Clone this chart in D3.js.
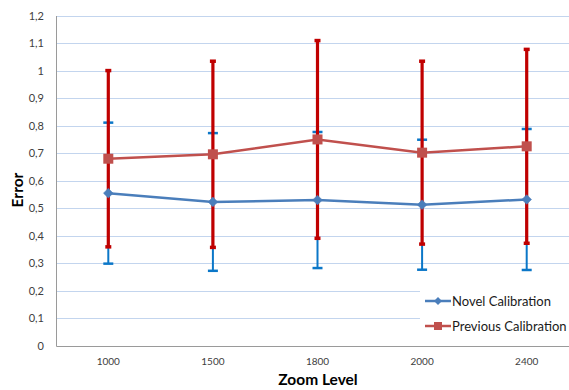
<!DOCTYPE html>
<html><head><meta charset="utf-8">
<script src="https://cdn.jsdelivr.net/npm/d3@7"></script>
<style>body{margin:0;background:#fff}svg{display:block}</style>
</head><body>
<svg id="c" width="569" height="390"></svg>
<script>
const categories = ["1000","1500","1800","2000","2400"];
const novel = [0.555, 0.523, 0.530, 0.513, 0.532];
const novelErr = [0.256, 0.250, 0.247, 0.236, 0.256];
const previous = [0.680, 0.696, 0.750, 0.702, 0.725];
const previousErr = [0.320, 0.338, 0.359, 0.332, 0.352];
const yTicks = [0,0.1,0.2,0.3,0.4,0.5,0.6,0.7,0.8,0.9,1.0,1.1,1.2];
const seriesNames = ["Novel Calibration","Previous Calibration"];

const svg = d3.select("#c");
const pLeft = 56, pRight = 579, pTop = 15.5, pBottom = 346;
const x = d3.scaleBand().domain(categories).range([pLeft, pRight]);
const y = d3.scaleLinear().domain([0, 1.2]).range([pBottom, pTop]);
const cx = d => x(d) + x.bandwidth()/2;
const font = "Lato, 'Open Sans', sans-serif";

// gridlines
svg.append("g").selectAll("line").data(yTicks.slice(1)).join("line")
  .attr("x1", pLeft).attr("x2", pRight)
  .attr("y1", d => Math.round(y(d))+0.5).attr("y2", d => Math.round(y(d))+0.5)
  .attr("stroke", "#c3d5ee").attr("stroke-width", 1.2);

// axes
const yAxis = svg.append("g").attr("transform", `translate(${pLeft},0)`)
  .call(d3.axisLeft(y).tickValues(yTicks).tickSize(0).tickPadding(12)
    .tickFormat(d => d3.format(".1~f")(d).replace(".", ",")));
yAxis.select(".domain").attr("stroke", "#9a9a9a");
yAxis.selectAll("text").attr("font-family", font).attr("font-size", 11).attr("fill", "#404040");

const xAxis = svg.append("g").attr("transform", `translate(0,${pBottom})`)
  .call(d3.axisBottom(x).tickSize(0).tickPadding(12));
xAxis.select(".domain").attr("stroke", "#9a9a9a");
xAxis.selectAll("text").attr("font-family", font).attr("font-size", 10).attr("fill", "#404040");

// axis titles
svg.append("text").attr("x", 318).attr("y", 385).attr("text-anchor", "middle")
  .attr("font-family", font).attr("font-weight", "bold").attr("font-size", 15.5).attr("fill", "#000")
  .text("Zoom Level");
svg.append("text").attr("transform", "translate(23,190) rotate(-90)").attr("text-anchor", "middle")
  .attr("font-family", font).attr("font-weight", "bold").attr("font-size", 15.5).attr("fill", "#000")
  .text("Error");

const blueLine = "#4a7ebb", redLine = "#c0504d", blueErr = "#0b77c8", redErr = "#c00000";

// blue error bars
const gb = svg.append("g");
categories.forEach((c, i) => {
  const px = cx(c);
  gb.append("line").attr("x1", px).attr("x2", px).attr("y1", y(novel[i]-novelErr[i])).attr("y2", y(novel[i]+novelErr[i]))
    .attr("stroke", blueErr).attr("stroke-width", 2);
  [novel[i]-novelErr[i], novel[i]+novelErr[i]].forEach(v => {
    gb.append("line").attr("x1", px-5).attr("x2", px+5).attr("y1", y(v)).attr("y2", y(v))
      .attr("stroke", blueErr).attr("stroke-width", 2.5);
  });
});
// red error bars
const gr = svg.append("g");
categories.forEach((c, i) => {
  const px = cx(c);
  gr.append("line").attr("x1", px).attr("x2", px).attr("y1", y(previous[i]-previousErr[i])).attr("y2", y(previous[i]+previousErr[i]))
    .attr("stroke", redErr).attr("stroke-width", 3.2);
  [previous[i]-previousErr[i], previous[i]+previousErr[i]].forEach(v => {
    gr.append("line").attr("x1", px-3).attr("x2", px+3).attr("y1", y(v)).attr("y2", y(v))
      .attr("stroke", redErr).attr("stroke-width", 3.5);
  });
});

// lines
const line = vals => d3.line().x((d,i) => cx(categories[i])).y(d => y(d))(vals);
svg.append("path").attr("d", line(novel)).attr("fill", "none").attr("stroke", blueLine).attr("stroke-width", 2.5);
svg.append("path").attr("d", line(previous)).attr("fill", "none").attr("stroke", redLine).attr("stroke-width", 2.5);

// markers
const diamond = d3.symbol().type(d3.symbolDiamond2).size(60);
svg.append("g").selectAll("path").data(novel).join("path")
  .attr("transform", (d,i) => `translate(${cx(categories[i])},${y(d)})`)
  .attr("d", diamond).attr("fill", blueLine).attr("stroke", blueLine).attr("stroke-width", 0.5);
svg.append("g").selectAll("rect").data(previous).join("rect")
  .attr("x", (d,i) => cx(categories[i]) - 5).attr("y", d => y(d) - 5)
  .attr("width", 10).attr("height", 10).attr("fill", redLine);

// legend
const lg = svg.append("g");
lg.append("rect").attr("x", 420).attr("y", 286).attr("width", 160).attr("height", 54).attr("fill", "#fff");
const ly = [301, 326];
seriesNames.forEach((n, i) => {
  const col = i === 0 ? blueLine : redLine;
  lg.append("line").attr("x1", 425).attr("x2", 451).attr("y1", ly[i]).attr("y2", ly[i]).attr("stroke", col).attr("stroke-width", 2.5);
  if (i === 0) lg.append("path").attr("transform", `translate(438,${ly[i]})`).attr("d", d3.symbol().type(d3.symbolDiamond2).size(40)).attr("fill", col);
  else lg.append("rect").attr("x", 434).attr("y", ly[i]-4).attr("width", 8).attr("height", 8).attr("fill", col);
  lg.append("text").attr("x", 452).attr("y", ly[i]+4.5).attr("font-family", font).attr("font-size", 13).attr("fill", "#1a1a1a").text(n);
});
</script>
</body></html>
